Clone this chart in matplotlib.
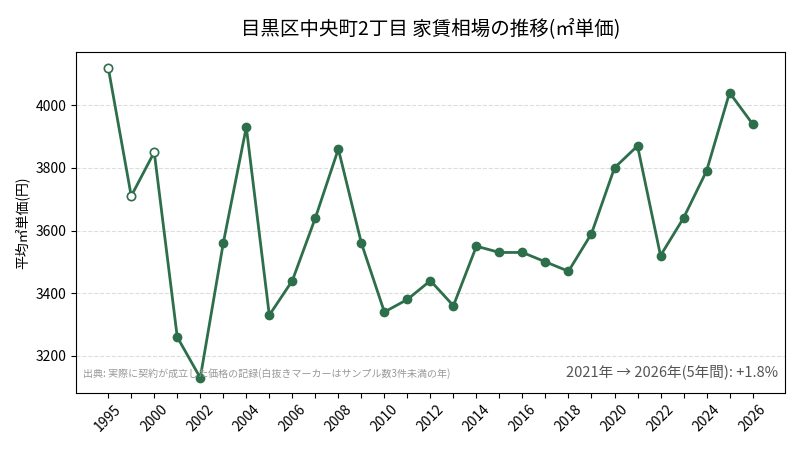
import numpy as np
import matplotlib
matplotlib.use("Agg")
import matplotlib.pyplot as plt

plt.rcParams['font.family'] = ['Noto Sans CJK JP', 'DejaVu Sans']

# 年ごとの平均㎡単価
years = [1995, 1999, 2000, 2001, 2002, 2003, 2004, 2005, 2006, 2007,
         2008, 2009, 2010, 2011, 2012, 2013, 2014, 2015, 2016, 2017,
         2018, 2019, 2020, 2021, 2022, 2023, 2024, 2025, 2026]
prices = [4120, 3710, 3850, 3260, 3130, 3560, 3930, 3330, 3440, 3640,
          3860, 3560, 3340, 3380, 3440, 3360, 3550, 3530, 3530, 3500,
          3470, 3590, 3800, 3870, 3520, 3640, 3790, 4040, 3940]
# サンプル数3件未満の年(白抜き)
few_samples = [True, True, True] + [False] * 26

color = '#2d6e4b'
x = np.arange(len(years))
prices = np.array(prices)
few = np.array(few_samples)

fig = plt.figure(figsize=(8, 4.5), dpi=100)
ax = fig.add_axes([0.095, 0.127, 0.886, 0.757])

ax.plot(x, prices, color=color, linewidth=2, zorder=2)
ax.scatter(x[~few], prices[~few], color=color, s=36, zorder=3)
ax.scatter(x[few], prices[few], facecolor='white', edgecolor=color,
           linewidth=1.2, s=36, zorder=3)

ax.set_xlim(-1.4, 29.4)
ax.set_ylim(3082, 4169)
ax.set_yticks([3200, 3400, 3600, 3800, 4000])
ax.grid(axis='y', linestyle='--', color='#dddddd', linewidth=0.8)
ax.set_axisbelow(True)

ax.set_xticks(x)
ax.set_xticklabels([str(y) if i % 2 == 0 else '' for i, y in enumerate(years)],
                   rotation=45, fontsize=10)
ax.tick_params(axis='y', labelsize=10)

ax.set_ylabel('平均㎡単価(円)', fontsize=10)
ax.set_title('目黒区中央町2丁目 家賃相場の推移(㎡単価)', fontsize=14, pad=13)

ax.text(0.01, 0.04, '出典: 実際に契約が成立した価格の記録(白抜きマーカーはサンプル数3件未満の年)',
        transform=ax.transAxes, fontsize=7.2, color='#999999', ha='left', va='bottom')
change = (prices[-1] / prices[years.index(2021)] - 1) * 100
ax.text(0.99, 0.04, f'2021年 → 2026年(5年間): {change:+.1f}%',
        transform=ax.transAxes, fontsize=10.5, color='#555555', ha='right', va='bottom')

fig.savefig('out.png', dpi=100)
